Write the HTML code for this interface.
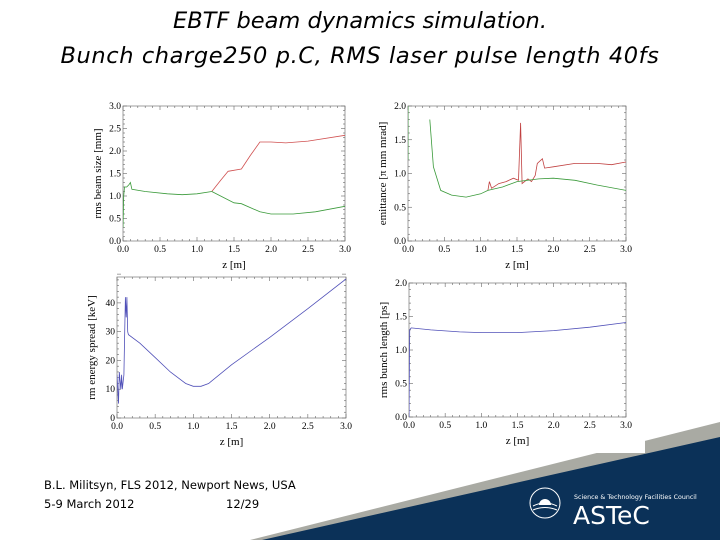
<!DOCTYPE html>
<html><head><meta charset="utf-8"><style>
body{margin:0;width:720px;height:540px;overflow:hidden;background:#fff;position:relative;font-family:"Liberation Sans","DejaVu Sans",sans-serif}
.t{position:absolute;left:0;width:720px;text-align:center;font-family:"DejaVu Sans",sans-serif;font-style:italic;font-size:22.5px;color:#000;white-space:nowrap}
.f{position:absolute;left:44px;font-family:"DejaVu Sans",sans-serif;font-size:11.5px;color:#000}
</style></head><body>
<div class="t" style="top:8px">EBTF beam dynamics simulation.</div>
<div class="t" style="top:43px;letter-spacing:0.6px">Bunch charge250 p.C, RMS laser pulse length 40fs</div>
<svg id="s" width="720" height="540" style="position:absolute;left:0;top:0">
<polygon points="250,540 720,422 720,540" fill="#a9aaa3"/>
<polygon points="262,540 720,437 720,540" fill="#0b3158"/>
<rect x="380" y="270" width="265" height="183" fill="#fff"/>
<g>
<circle cx="545" cy="503" r="15" fill="none" stroke="#fff" stroke-width="1"/>
<path d="M533,506 Q545,500 557,506 M533,510 Q545,505 557,510" fill="none" stroke="#fff" stroke-width="1"/>
<path d="M539,505 A6,6 0 0 1 551,505 Z" fill="#fff"/>
<text x="574" y="499" font-size="6.3" fill="#fff" font-family="DejaVu Sans, sans-serif">Science &amp; Technology Facilities Council</text>
<text x="573" y="524" font-size="25" fill="#fff" font-family="DejaVu Sans, sans-serif">ASTeC</text>
</g>
</svg>
<div class="f" style="top:478px">B.L. Militsyn, FLS 2012, Newport News, USA</div>
<div class="f" style="top:497px">5-9 March 2012</div>
<div class="f" style="top:497px;left:226px">12/29</div>
<script>
const NS="http://www.w3.org/2000/svg";
const svg=document.getElementById('s');
// Data arrays
const bsZ=[0,0.01,0.02,0.05,0.08,0.1,0.12,0.3,0.6,0.8,1.0,1.2];
const bsCommon=[0.3,1.0,1.2,1.2,1.25,1.3,1.15,1.1,1.05,1.03,1.05,1.1];
const bsXZ=[1.2,1.32,1.42,1.6,1.72,1.85,2.0,2.2,2.5,3.0];
const bsX=[1.1,1.35,1.55,1.6,1.9,2.2,2.2,2.18,2.22,2.35];
const bsYZ=[1.2,1.5,1.6,1.85,2.0,2.3,2.6,3.0];
const bsY=[1.1,0.85,0.83,0.65,0.6,0.6,0.65,0.77];
const emZ=[0.3,0.35,0.45,0.6,0.8,1.0,1.1];
const emCommon=[1.8,1.1,0.75,0.68,0.65,0.7,0.75];
const emXZ=[1.1,1.12,1.15,1.25,1.35,1.45,1.52,1.55,1.57,1.65,1.7,1.75,1.78,1.85,1.88,2.0,2.3,2.6,2.8,3.0];
const emX=[0.75,0.88,0.78,0.85,0.88,0.93,0.9,1.75,0.85,0.92,0.88,0.97,1.15,1.22,1.08,1.1,1.15,1.15,1.13,1.17];
const emYZ=[1.1,1.3,1.5,1.8,2.0,2.3,2.6,3.0];
const emY=[0.75,0.8,0.88,0.92,0.93,0.9,0.83,0.75];
const esZ=[0,0.02,0.03,0.05,0.06,0.07,0.09,0.1,0.11,0.12,0.13,0.14,0.15,0.3,0.5,0.7,0.9,1.0,1.1,1.2,1.5,2.0,2.5,3.0];
const esV=[15,5,16,10,15,10,15,28,42,35,42,30,29,26,21,16,12,11,11,12,18.5,28,38,48.3];
const blZ=[0,0.01,0.03,0.3,0.7,1.0,1.5,2.0,2.5,3.0];
const blV=[0,1.3,1.33,1.3,1.27,1.26,1.26,1.29,1.34,1.41];
const xTicks=["0.0","0.5","1.0","1.5","2.0","2.5","3.0"];

function el(t,a,p){const e=document.createElementNS(NS,t);for(const k in a)e.setAttribute(k,a[k]);(p||svg).appendChild(e);return e;}
function plot(name,L,R,T,B,ymax,yStep,yMinor,yFmt,ylab,series){
  const g=el('g',{});
  
  
  const sx=z=>L+(z/3)*(R-L), sy=v=>B-(v/ymax)*(B-T);
  const cp=name+'-clip';
  const c=el('clipPath',{id:cp},g);el('rect',{x:L,y:T,width:R-L,height:B-T},c);
  el('rect',{x:L,y:T,width:R-L,height:B-T,fill:'none',stroke:'#888','stroke-width':0.8},g);
  for(let i=0;i<=30;i++){const x=sx(i*0.1),len=i%5==0?4:2;
    el('line',{x1:x,x2:x,y1:B,y2:B-len,stroke:'#666','stroke-width':0.6},g);
    el('line',{x1:x,x2:x,y1:T,y2:T+len,stroke:'#666','stroke-width':0.6},g);}
  xTicks.forEach(t=>{const tx=el('text',{x:sx(+t),y:B+11,'font-size':9.5,'text-anchor':'middle','font-family':'Liberation Serif, serif'},g);tx.textContent=t;
    
    });
  const nm=Math.round(ymax/yMinor);
  for(let i=0;i<=nm;i++){const v=i*yMinor,y=sy(v),maj=Math.abs(v/yStep-Math.round(v/yStep))<1e-6,len=maj?4:2;
    el('line',{x1:L,x2:L+len,y1:y,y2:y,stroke:'#666','stroke-width':0.6},g);
    el('line',{x1:R,x2:R-len,y1:y,y2:y,stroke:'#666','stroke-width':0.6},g);}
  for(let v=0;v<=ymax+1e-6;v+=yStep){const tx=el('text',{x:L-2,y:sy(v)+3,'font-size':9.5,'text-anchor':'end','font-family':'Liberation Serif, serif'},g);tx.textContent=yFmt(v);
    
    }
  const xl=el('text',{x:(L+R)/2,y:B+27,'font-size':11,'text-anchor':'middle','font-family':'Liberation Serif, serif'},g);xl.textContent='z [m]';
  
  
  const yl=el('text',{x:0,y:0,'font-size':11,'text-anchor':'middle','font-family':'Liberation Serif, serif',transform:`translate(${L-22},${(T+B)/2}) rotate(-90)`},g);yl.textContent=ylab;
  
  
  series.forEach(s=>{const d=s.z.map((z,i)=>(i?'L':'M')+sx(z).toFixed(1)+','+sy(s.v[i]).toFixed(1)).join('');
    const p=el('path',{d:d,fill:'none',stroke:s.c,'stroke-width':0.8,'clip-path':`url(#${cp})`},g);
    
    });
}
const f1=v=>v.toFixed(1);
plot('beam-size-plot',123,345,106,241,3,0.5,0.1,f1,'rms beam size [mm]',[
 {z:bsXZ,v:bsX,c:'#d05050',n:'beam-size-x-line'},
 {z:bsZ,v:bsCommon,c:'#3a9a3a',n:'beam-size-initial-line'},
 {z:bsYZ,v:bsY,c:'#3a9a3a',n:'beam-size-y-line'}]);
plot('emittance-plot',408,626,106,241,2,0.5,0.1,f1,'emittance [\u03c0 mm mrad]',[
 {z:[0,0],v:[1.2,2],c:'#3a9a3a',n:'emittance-start-line'},
 {z:emXZ,v:emX,c:'#c04040',n:'emittance-x-line'},
 {z:emZ,v:emCommon,c:'#3a9a3a',n:'emittance-initial-line'},
 {z:emYZ,v:emY,c:'#3a9a3a',n:'emittance-y-line'}]);
plot('energy-spread-plot',117,346,277,418,49,10,2,v=>String(Math.round(v)),'rm energy spread [keV]',[
 {z:esZ,v:esV,c:'#5050b8',n:'energy-spread-line'}]);
plot('bunch-length-plot',409,626,283,417,2,0.5,0.1,f1,'rms bunch length [ps]',[
 {z:blZ,v:blV,c:'#5050b8',n:'bunch-length-line'}]);
</script>
</body></html>
